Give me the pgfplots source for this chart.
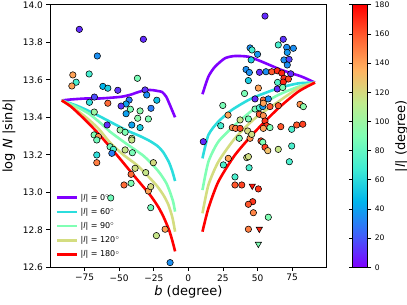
\documentclass[border=0pt]{standalone}
\usepackage{fontspec}
\setmainfont{DejaVu Sans}
\usepackage{pgfplots}
\pgfplotsset{compat=1.18}
\pgfplotsset{colormap={mplrainbow}{rgb=(0.5,0,1) rgb=(0.25,0.383,0.981) rgb=(0,0.707,0.924) rgb=(0.25,0.924,0.831) rgb=(0.5,1,0.707) rgb=(0.75,0.924,0.556) rgb=(1,0.707,0.383) rgb=(1,0.383,0.195) rgb=(1,0,0)}}
\definecolor{cZero}{rgb}{0.5,0,1}
\definecolor{cSixty}{rgb}{0.167,0.866,0.866}
\definecolor{cNinety}{rgb}{0.5,1,0.707}
\definecolor{cOneTwenty}{rgb}{0.833,0.866,0.5}
\definecolor{cOneEighty}{rgb}{1,0,0}
\begin{document}
\begin{tikzpicture}
\begin{axis}[
  at={(0,0)}, anchor=south west,
  scale only axis, width=276.7pt, height=262.5pt,
  xmin=-100, xmax=100, ymin=12.6, ymax=14.0,
  xtick={-75,-50,-25,0,25,50,75},
  xticklabels={−75,−50,−25,0,25,50,75},
  ytick={12.6,12.8,13.0,13.2,13.4,13.6,13.8,14.0},
  yticklabels={12.6,12.8,13.0,13.2,13.4,13.6,13.8,14.0},
  tick align=outside, xtick pos=bottom, ytick pos=left,
  major tick length=3.5pt,
  tick style={black, line width=0.6pt},
  axis line style={line width=0.7pt},
  ticklabel style={font=\fontsize{9}{10}\selectfont},
  xlabel={\textit{b} (degree)},
  ylabel={log \textit{N} |sin\textit{b}|},
  label style={font=\fontsize{13}{15}\selectfont},
  xlabel style={at={(axis description cs:0.5,-0.094)}, anchor=center},
  ylabel style={at={(axis description cs:-0.148,0.5)}, anchor=center},
  colormap name=mplrainbow,
  point meta min=0, point meta max=180,
  clip marker paths=true,
  colorbar,
  colorbar style={
    at={(parent axis.north east)}, anchor=north west, xshift=17.3pt,
    width=15.3pt,
    ytick={0,20,40,60,80,100,120,140,160,180},
    yticklabels={0,20,40,60,80,100,120,140,160,180},
    tick align=outside, major tick length=3.5pt,
    tick style={black, line width=0.6pt},
    axis line style={line width=0.7pt},
    yticklabel style={font=\fontsize{7.6}{9}\selectfont},
    ylabel={|\textit{l}| (degree)},
    ylabel style={at={(axis description cs:3.22,0.5)}, anchor=center, font=\fontsize{13}{15}\selectfont},
  },
  legend style={at={(axis description cs:0.012,0.018)}, anchor=south west, draw=none, fill=none,
    font=\fontsize{8}{9.5}\selectfont, row sep=2.6pt, inner sep=2pt},
  legend cell align=left,
  legend image code/.code={\draw[#1, line width=2.6pt] (0cm,0cm) -- (0.72cm,0cm);},
]
% |l| = 0
\addplot[cZero, line width=2.6pt, smooth, tension=0.4] coordinates {
(-91.5,13.49) (-85,13.495) (-75,13.50) (-65,13.50) (-55,13.505) (-48,13.51) (-42,13.52) (-36,13.535) (-31,13.545) (-26,13.545) (-22,13.54) (-19,13.535) (-16,13.51) (-13,13.46) (-9.6,13.40)};
\addlegendentry{|\textit{l}| = 0\textsuperscript{$\circ$}}
\addplot[cZero, line width=2.6pt, smooth, tension=0.4, forget plot] coordinates {
(10.2,13.523) (14.5,13.617) (19.3,13.670) (26.5,13.715) (33.7,13.727) (43.4,13.723) (53,13.697) (67.5,13.652) (81.9,13.617) (91.5,13.585)};
% |l| = 60
\addplot[cSixty, line width=2.6pt, smooth, tension=0.4] coordinates {
(-91.5,13.49) (-80,13.46) (-68,13.42) (-55,13.37) (-44.5,13.33) (-35,13.30) (-27.7,13.273) (-22,13.245) (-18,13.212) (-14,13.16) (-11.5,13.11) (-9.6,13.06)};
\addlegendentry{|\textit{l}| = 60\textsuperscript{$\circ$}}
\addplot[cSixty, line width=2.6pt, smooth, tension=0.4, forget plot] coordinates {
(10.2,13.181) (14.5,13.306) (21.7,13.377) (31.4,13.439) (45.8,13.501) (65.0,13.555) (79.5,13.581) (91.5,13.585)};
% |l| = 90
\addplot[cNinety, line width=2.6pt, smooth, tension=0.4] coordinates {
(-91.5,13.49) (-82,13.46) (-72,13.42) (-62,13.36) (-56.6,13.323) (-45,13.26) (-32.5,13.195) (-25,13.14) (-20.4,13.10) (-16,13.05) (-13.2,13.0) (-11,12.95) (-9.6,12.897)};
\addlegendentry{|\textit{l}| = 90\textsuperscript{$\circ$}}
\addplot[cNinety, line width=2.6pt, smooth, tension=0.4, forget plot] coordinates {
(10.2,13.012) (14.5,13.163) (21.7,13.270) (33.7,13.359) (48.2,13.448) (65,13.519) (79.5,13.563) (91.5,13.585)};
% |l| = 120
\addplot[cOneTwenty, line width=2.6pt, smooth, tension=0.4] coordinates {
(-91.5,13.49) (-83,13.45) (-74,13.40) (-65,13.34) (-56.6,13.265) (-47,13.20) (-37.3,13.146) (-30,13.093) (-22.8,13.035) (-18,12.985) (-14.5,12.935) (-11.5,12.865) (-9.6,12.79)};
\addlegendentry{|\textit{l}| = 120\textsuperscript{$\circ$}}
\addplot[cOneTwenty, line width=2.6pt, smooth, tension=0.4, forget plot] coordinates {
(10.2,12.888) (14.5,13.039) (21.7,13.163) (33.7,13.288) (48.2,13.395) (65,13.483) (79.5,13.555) (91.5,13.585)};
% |l| = 180
\addplot[cOneEighty, line width=2.6pt, smooth, tension=0.4] coordinates {
(-91.5,13.49) (-85,13.458) (-78.2,13.412) (-70,13.352) (-63.8,13.303) (-51.7,13.199) (-39.7,13.092) (-27.7,12.986) (-22,12.925) (-18,12.87) (-14,12.80) (-11.5,12.74) (-9.6,12.685)};
\addlegendentry{|\textit{l}| = 180\textsuperscript{$\circ$}}
\addplot[cOneEighty, line width=2.6pt, smooth, tension=0.4, forget plot] coordinates {
(10.2,12.790) (14.5,12.915) (21.7,13.057) (33.7,13.199) (48.2,13.323) (65,13.448) (79.5,13.537) (91.5,13.585)};
% scatter: circles
\addplot[scatter, only marks, mark=*, mark size=3.2pt, point meta=explicit,
  scatter/use mapped color={draw=black, fill=mapped color, line width=0.55pt}, forget plot]
  table[x=b, y=y, meta=l] {
b y l
-78.8 13.869 10
-32.5 13.816 10
-65.8 13.727 35
-71.7 13.631 70
-83.5 13.626 140
-81.1 13.587 70
-84.2 13.567 140
-36.8 13.608 88
-61.8 13.565 45
-58.2 13.555 55
-51.0 13.544 12
-31.3 13.546 12
-30.1 13.519 35
-67.9 13.508 18
-71.5 13.480 62
-58.2 13.475 155
-42.8 13.492 30
-45.0 13.471 40
-48.6 13.460 12
-22.8 13.491 50
-41.9 13.443 90
-45.0 13.419 40
-34.9 13.434 95
-27.0 13.448 30
-36.6 13.395 95
-28.9 13.391 90
-40.9 13.359 40
-34.9 13.345 55
-68.0 13.428 100
-58.7 13.359 10
-49.3 13.332 100
-45.7 13.320 90
-40.9 13.288 110
-68.1 13.306 90
-65.0 13.297 145
-66.2 13.279 85
-56.6 13.243 85
-54.2 13.229 70
-55.3 13.208 30
-66.2 13.199 62
-66.2 13.158 150
-40.9 13.279 115
-40.5 13.211 88
-45.7 13.226 115
-38.5 13.128 118
-25.3 13.158 120
-30.8 13.105 115
-41.4 13.096 155
-46.5 13.039 155
-41.4 13.048 90
-28.9 13.007 140
-27.2 13.030 120
-56.1 12.970 85
-27.2 12.918 85
-16.8 12.803 140
-23.1 12.769 115
-13.2 12.625 35
-18.6 12.599 30
55.4 13.940 10
68.6 13.816 12
65.0 13.786 72
71.1 13.773 35
75.9 13.768 35
71.5 13.746 38
44.6 13.770 35
46.0 13.759 70
50.0 13.736 38
45.4 13.706 55
69.1 13.706 35
72.8 13.709 15
71.5 13.679 35
41.7 13.655 35
44.1 13.639 35
51.4 13.640 10
56.1 13.643 35
60.3 13.643 160
64.3 13.648 170
67.5 13.636 172
74.0 13.632 10
69.1 13.608 170
72.3 13.604 165
43.4 13.596 55
64.5 13.586 75
68.6 13.588 172
50.6 13.556 140
64.3 13.551 10
68.2 13.559 88
40.6 13.527 88
48.2 13.498 10
54.2 13.492 155
57.8 13.498 35
24.9 13.463 88
28.7 13.412 140
23.4 13.355 70
31.8 13.345 145
34.2 13.341 150
37.4 13.341 165
37.4 13.386 115
43.4 13.391 88
36.8 13.288 88
42.9 13.327 120
44.6 13.288 145
45.8 13.309 118
48.2 13.444 88
51.3 13.451 72
53.8 13.457 38
59.0 13.457 160
54.2 13.475 140
51.3 13.416 160
54.2 13.409 145
55.4 13.380 168
56.6 13.355 168
59.0 13.345 90
54.2 13.341 140
52.5 13.274 165
53.8 13.267 90
55.4 13.240 165
57.4 13.222 130
66.8 13.350 160
74.7 13.336 72
78.3 13.359 160
82.7 13.363 165
65.0 13.229 115
74.7 13.247 72
80.7 13.469 145
83.1 13.457 95
65.0 13.462 160
42.2 13.185 118
43.4 13.190 118
28.9 13.181 140
25.3 13.146 72
43.9 13.131 72
73.0 13.163 72
33.7 13.082 72
33.7 13.039 160
38.6 13.039 165
50.6 13.018 168
46.5 12.950 168
43.4 12.936 160
47.0 12.891 148
57.8 12.867 90
43.4 12.803 150
10.8 13.270 10
};
% scatter: downward triangles
\addplot[scatter, only marks, mark=triangle*, mark size=3.6pt, point meta=explicit,
  every mark/.append style={rotate=180},
  scatter/use mapped color={draw=black, fill=mapped color, line width=0.55pt}, forget plot]
  table[x=b, y=y, meta=l] {
b y l
46.2 13.034 175
51.3 12.804 172
50.6 12.724 90
};
\end{axis}
\pgfresetboundingbox
\path[use as bounding box] (-50pt,-37.7pt) rectangle (357pt,267.3pt);
\end{tikzpicture}
\end{document}
